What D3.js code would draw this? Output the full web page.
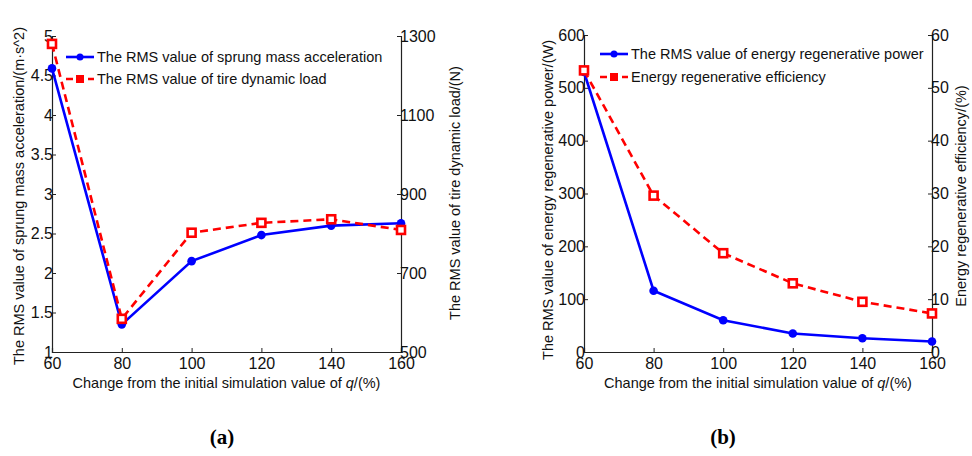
<!DOCTYPE html>
<html><head><meta charset="utf-8">
<script src="https://cdn.jsdelivr.net/npm/d3@7"></script>
<style>body{margin:0;background:#fff}svg{display:block}</style>
</head><body><svg id="c" width="972" height="456"></svg>
<script>
const xCats = [60, 80, 100, 120, 140, 160];
const accel = [4.59, 1.35, 2.15, 2.48, 2.60, 2.63];
const tireLoad = [1280, 584, 802, 827, 836, 809];
const power = [530, 116, 60, 35, 26, 20];
const efficiency = [53.3, 29.6, 18.7, 13.0, 9.5, 7.3];
const accelTicks = [1, 1.5, 2, 2.5, 3, 3.5, 4, 4.5, 5];
const loadTicks = [500, 700, 900, 1100, 1300];
const powerTicks = [0, 100, 200, 300, 400, 500, 600];
const effTicks = [0, 10, 20, 30, 40, 50, 60];

const svg = d3.select('#c');
const FONT = 'Liberation Sans, Arial, sans-serif';

function panel(o) {
  const g = svg.append('g');
  const x = d3.scaleLinear().domain([60, 160]).range([o.x0, o.x1]);
  const yl = d3.scaleLinear().domain(o.ldom).range([o.yb, o.yt]);
  const yr = d3.scaleLinear().domain(o.rdom).range([o.yb, o.yt]);

  const ax = g.append('g').attr('transform', `translate(0,${o.yb})`)
    .call(d3.axisBottom(x).tickValues(xCats).tickSize(-4).tickPadding(5).tickFormat(d3.format('d')));
  const al = g.append('g').attr('transform', `translate(${o.x0},0)`)
    .call(d3.axisLeft(yl).tickValues(o.lticks).tickSize(-4).tickPadding(-1).tickFormat(d => String(d)));
  const ar = g.append('g').attr('transform', `translate(${o.x1},0)`)
    .call(d3.axisRight(yr).tickValues(o.rticks).tickSize(-4).tickPadding(-1).tickFormat(d => String(d)));
  [ax, al, ar].forEach(a => {
    a.select('.domain').attr('stroke', '#222').attr('stroke-width', 1.2);
    a.selectAll('.tick line').attr('stroke', '#222');
    a.selectAll('text').attr('font-family', FONT).attr('font-size', 16).attr('fill', '#111');
  });
  ax.selectAll('text').attr('dy', '0.72em');

  const lb = d3.line().x((d, i) => x(xCats[i])).y(d => yl(d));
  const lr = d3.line().x((d, i) => x(xCats[i])).y(d => yr(d));
  g.append('path').attr('d', lb(o.blue)).attr('fill', 'none').attr('stroke', '#0000ff').attr('stroke-width', 2.6);
  g.append('path').attr('d', lr(o.red)).attr('fill', 'none').attr('stroke', '#ff0000').attr('stroke-width', 2.6).attr('stroke-dasharray', '8,5');
  g.selectAll(null).data(o.blue).enter().append('circle')
    .attr('cx', (d, i) => x(xCats[i])).attr('cy', d => yl(d)).attr('r', 4.3).attr('fill', '#0000ff');
  g.selectAll(null).data(o.red).enter().append('rect')
    .attr('x', (d, i) => x(xCats[i]) - 4).attr('y', d => yr(d) - 4).attr('width', 8).attr('height', 8)
    .attr('fill', '#fff').attr('stroke', '#ff0000').attr('stroke-width', 2.6);

  const lg = g.append('g').attr('font-family', FONT).attr('font-size', 14.5).attr('fill', '#111');
  [[o.leg1, 'b', o.ly1], [o.leg2, 'r', o.ly2]].forEach(([t, c, y]) => {
    const col = c === 'b' ? '#0000ff' : '#ff0000';
    lg.append('line').attr('x1', o.lx).attr('x2', o.lx + 28).attr('y1', y).attr('y2', y)
      .attr('stroke', col).attr('stroke-width', 2.6).attr('stroke-dasharray', c === 'b' ? null : '7,4');
    if (c === 'b') lg.append('circle').attr('cx', o.lx + 14).attr('cy', y).attr('r', 3.5).attr('fill', col);
    else lg.append('rect').attr('x', o.lx + 10).attr('y', y - 4).attr('width', 8).attr('height', 8).attr('fill', col);
    lg.append('text').attr('x', o.lx + 31).attr('y', y).attr('dy', '0.35em').text(t);
  });

  const xl = g.append('text').attr('x', (o.x0 + o.x1) / 2).attr('y', o.yb + 36)
    .attr('text-anchor', 'middle').attr('font-family', FONT).attr('font-size', 14.5).attr('fill', '#111');
  xl.append('tspan').text('Change from the initial simulation value of ');
  xl.append('tspan').attr('font-style', 'italic').text('q');
  xl.append('tspan').text('/(%)');
  g.append('text').attr('transform', `translate(${o.llx},${o.lly}) rotate(-90)`).attr('text-anchor', 'middle')
    .attr('font-family', FONT).attr('font-size', 14.5).attr('fill', '#111').text(o.lLabel);
  g.append('text').attr('transform', `translate(${o.rlx},${o.rly}) rotate(-90)`).attr('text-anchor', 'middle')
    .attr('font-family', FONT).attr('font-size', 14.5).attr('fill', '#111').text(o.rLabel);
  g.append('text').attr('x', o.capx).attr('y', 444).attr('text-anchor', 'middle')
    .attr('font-family', 'Liberation Serif, Times New Roman, serif').attr('font-size', 21).attr('font-weight', 'bold')
    .attr('fill', '#000').text(o.cap);
}

panel({
  x0: 52, x1: 401, yt: 36, yb: 352,
  ldom: [1, 5], rdom: [500, 1300], lticks: accelTicks, rticks: loadTicks,
  blue: accel, red: tireLoad,
  leg1: 'The RMS value of sprung mass acceleration', leg2: 'The RMS value of tire dynamic load',
  lx: 66, ly1: 57, ly2: 79,
  llx: 24, lly: 196, lLabel: 'The RMS value of sprung mass acceleration/(m·s^2)',
  rlx: 460, rly: 193, rLabel: 'The RMS value of tire dynamic load/(N)',
  capx: 222, cap: '(a)'
});
panel({
  x0: 584, x1: 932, yt: 35, yb: 352,
  ldom: [0, 600], rdom: [0, 60], lticks: powerTicks, rticks: effTicks,
  blue: power, red: efficiency,
  leg1: 'The RMS value of energy regenerative power', leg2: 'Energy regenerative efficiency',
  lx: 600, ly1: 54, ly2: 77,
  llx: 553, lly: 200, lLabel: 'The RMS value of energy regenerative power/(W)',
  rlx: 966, rly: 196, rLabel: 'Energy regenerative efficiency/(%)',
  capx: 723, cap: '(b)'
});
</script></body></html>
